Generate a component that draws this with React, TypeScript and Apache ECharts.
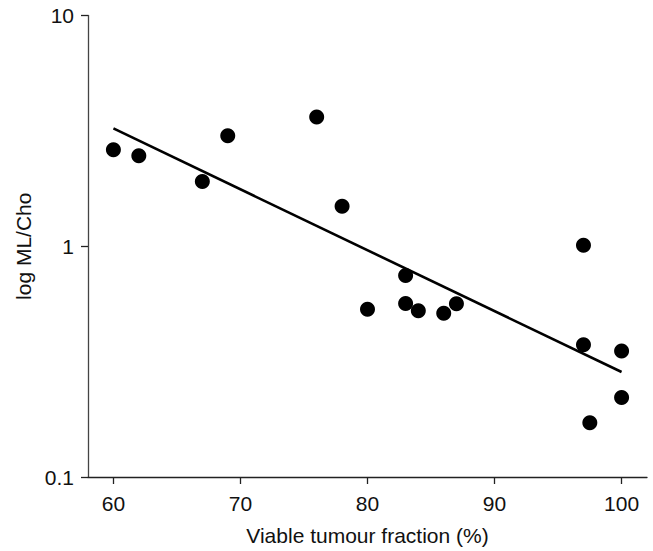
import React, { useEffect, useRef } from "react";
import * as echarts from "echarts";

const xValues = [60, 62, 67, 69, 76, 78, 80, 83, 83, 84, 86, 87, 97, 97, 97.5, 100, 100];
const yValues = [2.62, 2.47, 1.91, 3.01, 3.63, 1.49, 0.533, 0.746, 0.565, 0.525, 0.513, 0.563, 1.01, 0.374, 0.172, 0.352, 0.221];
const fitX = [60, 100];
const fitY = [3.24, 0.285];
const xTicks = [60, 70, 80, 90, 100];
const yTicks = [0.1, 1, 10];
const xTitle = "Viable tumour fraction (%)";
const yTitle = "log ML/Cho";

const FONT = "'Liberation Sans', Arial, Helvetica, sans-serif";

export default function App() {
  const ref = useRef<HTMLDivElement>(null);
  useEffect(() => {
    if (!ref.current) return;
    const chart = echarts.init(ref.current, undefined, { renderer: "svg" });
    chart.setOption({
      animation: false,
      backgroundColor: "#fff",
      grid: { left: 88, right: 6, top: 15.5, bottom: 70, containLabel: false },
      xAxis: {
        type: "value",
        min: 58,
        max: 102,
        name: xTitle,
        nameLocation: "middle",
        nameGap: 48,
        nameTextStyle: { fontFamily: FONT, fontSize: 21, color: "#111" },
        axisLine: { show: true, onZero: false, lineStyle: { color: "#222", width: 1.3 } },
        axisTick: { show: true, length: 7, customValues: xTicks, lineStyle: { color: "#222", width: 1.3 } },
        axisLabel: { customValues: xTicks, fontFamily: FONT, fontSize: 21, color: "#111", margin: 16 },
        splitLine: { show: false },
      },
      yAxis: {
        type: "log",
        logBase: 10,
        min: 0.1,
        max: 10,
        name: yTitle,
        nameLocation: "middle",
        nameGap: 52,
        nameTextStyle: { fontFamily: FONT, fontSize: 21, color: "#111" },
        axisLine: { show: true, onZero: false, lineStyle: { color: "#444", width: 1.3 } },
        axisTick: { show: true, length: 7, customValues: yTicks, lineStyle: { color: "#222", width: 1.3 } },
        axisLabel: { customValues: yTicks, fontFamily: FONT, fontSize: 21, color: "#111", margin: 14, formatter: (v: number) => String(v) },
        minorTick: { show: false },
        splitLine: { show: false },
      },
      series: [
        {
          type: "line",
          data: fitX.map((x, i) => [x, fitY[i]]),
          symbol: "none",
          lineStyle: { color: "#000", width: 2.6 },
          z: 2,
        },
        {
          type: "scatter",
          data: xValues.map((x, i) => [x, yValues[i]]),
          symbol: "circle",
          symbolSize: 15,
          itemStyle: { color: "#000", opacity: 1 },
          z: 3,
        },
      ],
    });
    return () => chart.dispose();
  }, []);
  return <div ref={ref} style={{ position: "fixed", left: 0, top: 0, width: 653, height: 551 }} />;
}
